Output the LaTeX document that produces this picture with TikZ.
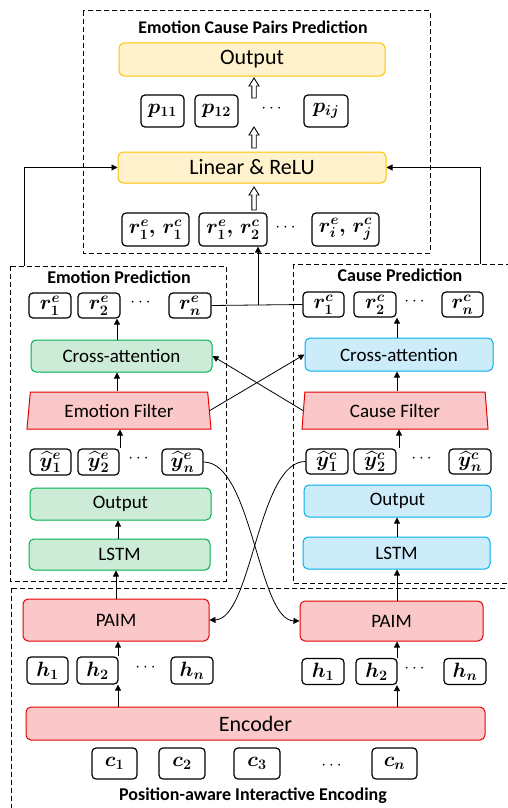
\documentclass[tikz,border=0pt]{standalone}
\usepackage[no-math]{fontspec}
\setmainfont{Carlito}
\usepackage{amsmath,bm}
\usetikzlibrary{shapes.geometric,arrows.meta,calc}
\definecolor{yelfill}{RGB}{255,242,204}
\definecolor{yeldraw}{RGB}{255,192,0}
\definecolor{grnfill}{RGB}{204,236,216}
\definecolor{grndraw}{RGB}{0,176,80}
\definecolor{blufill}{RGB}{204,236,250}
\definecolor{bludraw}{RGB}{0,176,240}
\definecolor{redfill}{RGB}{250,200,200}
\definecolor{reddraw}{RGB}{230,0,0}
\newcommand\hollowup[2]{%
  \draw[line width=0.9pt, fill=white] let \p1=#1, \p2=#2 in
   (\x1-2.2pt,\y1) -- (\x1-2.2pt,\y2-8pt) -- (\x1-5pt,\y2-8pt) -- (\x1,\y2)
   -- (\x1+5pt,\y2-8pt) -- (\x1+2.2pt,\y2-8pt) -- (\x1+2.2pt,\y1) -- cycle;}
\newcommand\bv[1]{\boldsymbol{#1}}
\begin{document}
\begin{tikzpicture}[x=1pt,y=-1pt,
  cbox/.style={draw, rounded corners=5pt, line width=1pt, inner sep=0pt, font=\fontsize{19}{21}\selectfont},
  yel/.style={cbox, fill=yelfill, draw=yeldraw, font=\fontsize{22}{24}\selectfont},
  grn/.style={cbox, fill=grnfill, draw=grndraw},
  blu/.style={cbox, fill=blufill, draw=bludraw},
  rd/.style={cbox, fill=redfill, draw=reddraw},
  sm/.style={draw=black, line width=1.2pt, rounded corners=4pt, inner sep=0pt, font=\fontsize{20}{22}\selectfont},
  ttl/.style={font=\bfseries\fontsize{18}{20}\selectfont},
  dbox/.style={draw, line width=1pt, dash pattern=on 5pt off 3pt},
  arr/.style={-{Triangle[length=6pt,width=6pt]}, line width=0.8pt},
  dts/.style={font=\fontsize{18}{20}\selectfont},
  trap/.style={trapezium, trapezium stretches body, inner sep=0pt, line width=1pt, fill=redfill, draw=reddraw, font=\fontsize{19}{21}\selectfont, minimum height=37}
]
\useasboundingbox (0,0) rectangle (508,808);
% dashed groups
\draw[dbox] (83,11) rectangle (430,253);
\draw[dbox] (10,266) rectangle (226,581);
\draw[dbox] (293,264) rectangle (515,583);
\draw[dbox] (11,588) rectangle (515,815);
\node[ttl, font=\bfseries\fontsize{17.8}{20}\selectfont] (t1) at (253,27) {Emotion Cause Pairs Prediction};
\node[ttl] (t2) at (119,277) {Emotion Prediction};
\node[ttl] (t3) at (400,275) {Cause Prediction};
\node[ttl] (t4) at (253,796) {Position-aware Interactive Encoding};

% top block
\node[yel, minimum width=266, minimum height=33] (out) at (252,59.5) {Output};
\node[yel, minimum width=268, minimum height=31] (lin) at (252,167.5) {Linear \& ReLU};
\node[sm, minimum width=43, minimum height=32] (p11) at (162.5,111) {$\bv{p}_{\bv{11}}$};
\node[sm, minimum width=43, minimum height=32] (p12) at (216.5,111) {$\bv{p}_{\bv{12}}$};
\node[dts] (pd) at (273,109) {$\cdots$};
\node[sm, minimum width=44, minimum height=32] (pij) at (326,111) {$\bv{p}_{\bv{ij}}$};
\node[sm, minimum width=67, minimum height=33] (pr1) at (155.5,229.5) {$\bv{r}_{\bv 1}^{\bv e}\bv{,}\,\bv{r}_{\bv 1}^{\bv c}$};
\node[sm, minimum width=68, minimum height=33] (pr2) at (233,229.5) {$\bv{r}_{\bv 1}^{\bv e}\bv{,}\,\bv{r}_{\bv 2}^{\bv c}$};
\node[dts] (prd) at (287,227.5) {$\cdots$};
\node[sm, minimum width=67, minimum height=33] (pr3) at (345.5,229.5) {$\bv{r}_{\bv i}^{\bv e}\bv{,}\,\bv{r}_{\bv j}^{\bv c}$};
\coordinate (ha1) at (254,98); \coordinate (ha2) at (254,78);
\coordinate (hb1) at (254,148); \coordinate (hb2) at (254,127);
\coordinate (hc1) at (254,210); \coordinate (hc2) at (254,187);
\hollowup{(ha1)}{(ha2)}
\hollowup{(hb1)}{(hb2)}
\hollowup{(hc1)}{(hc2)}

% emotion side
\node[sm, minimum width=42, minimum height=25] (re1) at (50,305.5) {$\bv{r}_{\bv 1}^{\bv e}$};
\node[sm, minimum width=42, minimum height=25] (re2) at (99,305.5) {$\bv{r}_{\bv 2}^{\bv e}$};
\node[dts] (red) at (142,303) {$\cdots$};
\node[sm, minimum width=42, minimum height=25] (ren) at (190,305.5) {$\bv{r}_{\bv n}^{\bv e}$};
\node[grn, minimum width=181, minimum height=32] (eca) at (121.5,356) {Cross-attention};
\node[trap, trapezium left angle=76, trapezium right angle=76, minimum width=184] (ef) at (119,410.5) {Emotion Filter};
\node[sm, minimum width=41, minimum height=26] (ye1) at (50.5,462) {$\widehat{\bv{y}}{}_{\bv 1}^{\bv e}$};
\node[sm, minimum width=41, minimum height=26] (ye2) at (98.5,462) {$\widehat{\bv{y}}{}_{\bv 2}^{\bv e}$};
\node[dts] (yed) at (140,459) {$\cdots$};
\node[sm, minimum width=41, minimum height=26] (yen) at (182.5,462) {$\widehat{\bv{y}}{}_{\bv n}^{\bv e}$};
\node[grn, minimum width=181, minimum height=32] (eout) at (120.5,504) {Output};
\node[grn, minimum width=181, minimum height=31] (elstm) at (119.5,554.5) {LSTM};

% cause side
\node[sm, minimum width=41, minimum height=25] (rc1) at (323.5,304.5) {$\bv{r}_{\bv 1}^{\bv c}$};
\node[sm, minimum width=42, minimum height=25] (rc2) at (375,304.5) {$\bv{r}_{\bv 2}^{\bv c}$};
\node[dts] (rcd) at (416,302) {$\cdots$};
\node[sm, minimum width=41, minimum height=25] (rcn) at (462.5,304.5) {$\bv{r}_{\bv n}^{\bv c}$};
\node[blu, minimum width=188, minimum height=33] (cca) at (399,354.5) {Cross-attention};
\node[trap, trapezium left angle=77.8, trapezium right angle=77.8, minimum width=186] (cf) at (395,410.5) {Cause Filter};
\node[sm, minimum width=42, minimum height=25] (yc1) at (327,461.5) {$\widehat{\bv{y}}{}_{\bv 1}^{\bv c}$};
\node[sm, minimum width=42, minimum height=25] (yc2) at (375,461.5) {$\widehat{\bv{y}}{}_{\bv 2}^{\bv c}$};
\node[dts] (ycd) at (423,459) {$\cdots$};
\node[sm, minimum width=42, minimum height=25] (ycn) at (470,461.5) {$\widehat{\bv{y}}{}_{\bv n}^{\bv c}$};
\node[blu, minimum width=187, minimum height=32] (cout) at (397.5,501) {Output};
\node[blu, minimum width=187, minimum height=32] (clstm) at (396.5,553) {LSTM};

% encoding
\node[rd, minimum width=186, minimum height=42] (lp) at (116,620) {PAIM};
\node[rd, minimum width=183, minimum height=40] (rp) at (391.5,621) {PAIM};
\node[sm, minimum width=41, minimum height=27] (lh1) at (47.5,670.5) {$\bv{h}_{\bv 1}$};
\node[sm, minimum width=41, minimum height=27] (lh2) at (97.5,670.5) {$\bv{h}_{\bv 2}$};
\node[dts] (lhd) at (147,668) {$\cdots$};
\node[sm, minimum width=42, minimum height=27] (lhn) at (192,670.5) {$\bv{h}_{\bv n}$};
\node[sm, minimum width=42, minimum height=26] (rh1) at (323,671.5) {$\bv{h}_{\bv 1}$};
\node[sm, minimum width=41, minimum height=26] (rh2) at (376.5,671.5) {$\bv{h}_{\bv 2}$};
\node[dts] (rhd) at (416,669) {$\cdots$};
\node[sm, minimum width=42, minimum height=26] (rhn) at (465,671.5) {$\bv{h}_{\bv n}$};
\node[rd, minimum width=459, minimum height=33, font=\fontsize{22}{24}\selectfont] (enc) at (255.5,723.5) {Encoder};
\node[sm, minimum width=45, minimum height=31] (c1) at (114.5,763.5) {$\bv{c}_{\bv 1}$};
\node[sm, minimum width=46, minimum height=31] (c2) at (182,763.5) {$\bv{c}_{\bv 2}$};
\node[sm, minimum width=46, minimum height=31] (c3) at (257,763.5) {$\bv{c}_{\bv 3}$};
\node[dts] (cd) at (333,766) {$\cdots$};
\node[sm, minimum width=45, minimum height=31] (cn) at (394.5,763.5) {$\bv{c}_{\bv n}$};

% connectors
\coordinate (fl) at (24,266);
\coordinate (fr) at (480,264);
\draw[arr] (fl) |- (lin.west);
\draw[arr] (fr) |- (lin.east);
\coordinate (jn) at (258,305);
\draw[line width=0.8pt] (ren.east) -- (rc1.west);
\draw[arr] (jn) -- (jn |- pr2.south);

% emotion arrows
\coordinate (a1) at ($(eca.north)+(-4.5,0)$);
\coordinate (a2) at ($(ef.north)+(-2,0)$);
\coordinate (a3) at ($(ye2.north)+(21.5,0)$);
\coordinate (a4) at ($(elstm.north)+(-1.5,0)$);
\coordinate (a5) at (lp.north);
\coordinate (a6) at ($(lh2.north)+(20.5,0)$);
\coordinate (a7) at ($(enc.north)+(-137.5,0)$);
\draw[arr] (a1) -- (a1 |- re2.south);
\draw[arr] (a2) -- (a2 |- eca.south);
\draw[arr] (a3) -- (a3 |- ef.south);
\draw[arr] (a4) -- (a4 |- eout.south);
\draw[arr] (a5) -- (a5 |- elstm.south);
\draw[arr] (a6) -- (a6 |- lp.south);
\draw[arr] (a7) -- (a7 |- lh2.south);
% cause arrows
\coordinate (b1) at ($(cca.north)+(-2,0)$);
\coordinate (b2) at ($(cf.north)+(2,0)$);
\coordinate (b3) at ($(yc2.north)+(24,0)$);
\coordinate (b4) at ($(clstm.north)+(0.5,0)$);
\coordinate (b5) at ($(rp.north)+(5.5,0)$);
\coordinate (b6) at ($(rh2.north)+(20.5,0)$);
\coordinate (b7) at ($(enc.north)+(141.5,0)$);
\draw[arr] (b1) -- (b1 |- rc2.south);
\draw[arr] (b2) -- (b2 |- cca.south);
\draw[arr] (b3) -- (b3 |- cf.south);
\draw[arr] (b4) -- (b4 |- cout.south);
\draw[arr] (b5) -- (b5 |- clstm.south);
\draw[arr] (b6) -- (b6 |- rp.south);
\draw[arr] (b7) -- (b7 |- rh2.south);
% cross connections
\draw[arr] (ef.east) -- (cca.west);
\draw[arr] (cf.west) -- (eca.east);
% curves
\draw[arr] (yen.east) .. controls (252,462) and (258,620) .. (rp.west);
\draw[arr] (yc1.west) .. controls (258,461) and (252,619) .. (lp.east);
\end{tikzpicture}
\end{document}
